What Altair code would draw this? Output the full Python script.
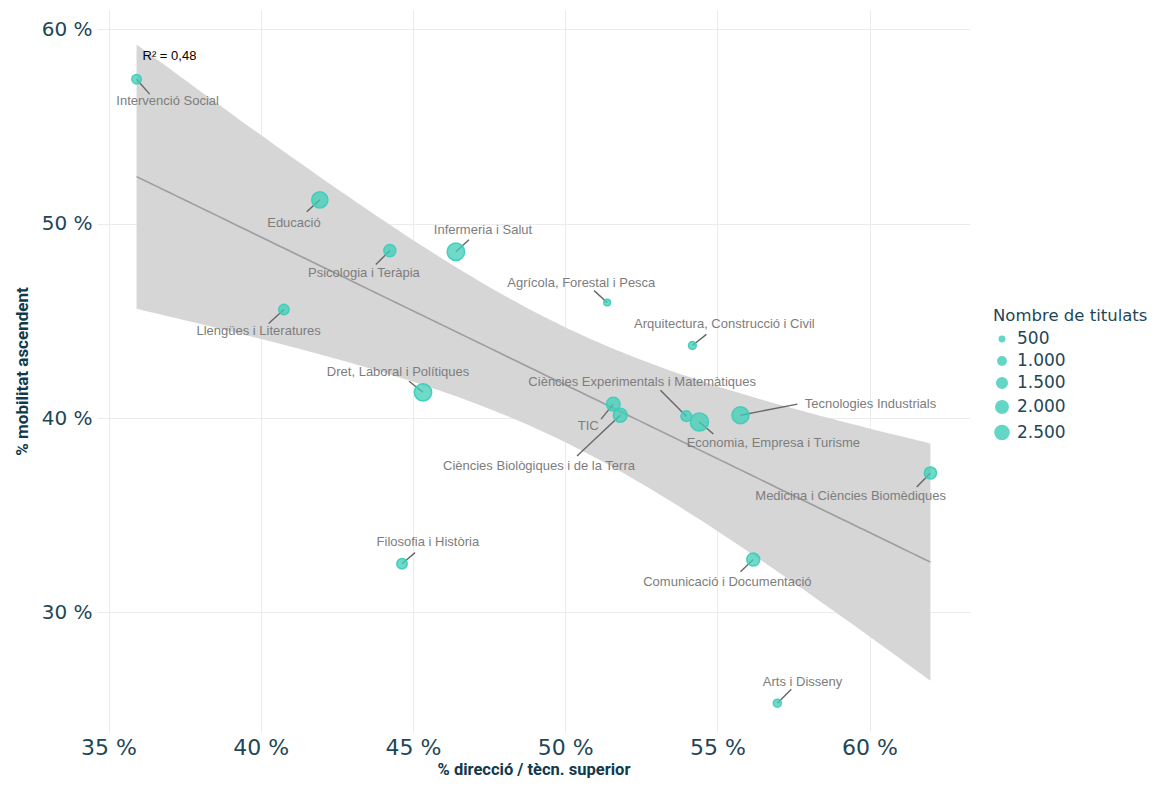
import altair as alt
import numpy as np
import pandas as pd

# ---- data ----
names = [
    "Intervenció Social", "Educació", "Psicologia i Teràpia", "Infermeria i Salut",
    "Llengües i Literatures", "Agrícola, Forestal i Pesca", "Arquitectura, Construcció i Civil",
    "Dret, Laboral i Polítiques", "Ciències Experimentals i Matemàtiques", "TIC",
    "Ciències Biològiques i de la Terra", "Economia, Empresa i Turisme", "Tecnologies Industrials",
    "Medicina i Ciències Biomèdiques", "Filosofia i Història", "Comunicació i Documentació",
    "Arts i Disseny",
]
pct_direccio = [35.92, 41.94, 44.24, 46.41, 40.76, 51.38, 54.18, 45.33, 53.98, 51.58,
                51.81, 54.41, 55.76, 62.00, 44.64, 56.18, 56.97]
pct_mobilitat = [57.44, 51.23, 48.62, 48.56, 45.59, 45.95, 43.74, 41.33, 40.10, 40.72,
                 40.15, 39.80, 40.15, 37.18, 32.51, 32.72, 25.33]
titulats = [930, 2700, 1500, 3080, 1110, 455, 625, 3080, 1170, 1900,
            1975, 3400, 2990, 1510, 1110, 1740, 670]

# label anchor (text centre) and repel-segment end, in data units
label_x = [36.94, 41.09, 43.39, 47.30, 39.93, 50.53, 55.23, 44.51, 52.53, 50.76,
           49.14, 56.84, 60.03, 59.38, 45.49, 55.33, 57.80]
label_y = [56.31, 50.05, 47.49, 49.69, 44.46, 46.97, 44.82, 42.36, 41.85, 39.59,
           37.54, 38.72, 40.72, 36.00, 33.64, 31.59, 26.41]
seg_x = [36.35, 41.51, 43.78, 46.84, 40.26, 50.95, 54.64, 44.87, 53.13, 51.18,
         50.39, 54.87, 57.63, 61.55, 45.07, 55.76, 57.43]
seg_y = [56.67, 50.62, 47.90, 49.18, 44.87, 46.56, 44.31, 41.90, 41.44, 39.95,
         38.05, 39.18, 40.72, 36.46, 33.08, 32.10, 26.05]

r2_text = ["R² = 0,48"]
r2_x = [37.0]
r2_y = [58.62]

x_ticks = [35, 40, 45, 50, 55, 60]
y_ticks = [30, 40, 50, 60]
legend_values = [500, 1000, 1500, 2000, 2500]

# ---- linear fit with 95% confidence band (like geom_smooth(method="lm")) ----
xa = np.array(pct_direccio)
ya = np.array(pct_mobilitat)
n = len(xa)
slope, intercept = np.polyfit(xa, ya, 1)
resid = ya - (intercept + slope * xa)
s = np.sqrt(np.sum(resid ** 2) / (n - 2))
sxx = np.sum((xa - xa.mean()) ** 2)
t_q = 2.131449545  # t(0.975, 15)
xs = np.linspace(xa.min(), xa.max(), 80)
fit = intercept + slope * xs
se = s * np.sqrt(1.0 / n + (xs - xa.mean()) ** 2 / sxx)
band = pd.DataFrame({"x": xs, "fit": fit, "lo": fit - t_q * se, "hi": fit + t_q * se})

pts = pd.DataFrame({
    "name": names, "x": pct_direccio, "y": pct_mobilitat, "n": titulats,
    "lx": label_x, "ly": label_y, "sx": seg_x, "sy": seg_y,
})
r2 = pd.DataFrame({"t": r2_text, "x": r2_x, "y": r2_y})

TEAL = "#3ECDB8"
AX = "#1e4756"
TITLE = "#0f3a4d"

xscale = alt.Scale(domain=[34.62, 63.3], nice=False, zero=False)
yscale = alt.Scale(domain=[23.85, 61.0], nice=False, zero=False)

xaxis = alt.Axis(
    values=x_ticks, labelExpr="datum.value + ' %'", title="% direcció / tècn. superior",
    labelFont="DejaVu Sans", labelFontSize=22, labelColor=AX, labelPadding=5,
    titleFont="Roboto", titleFontSize=16.5, titleFontWeight="bold", titleColor=TITLE,
    titlePadding=3, grid=True, gridColor="#ebebeb", domain=False, ticks=False,
)
yaxis = alt.Axis(
    values=y_ticks, labelExpr="datum.value + ' %'", title="% mobilitat ascendent",
    labelFont="DejaVu Sans", labelFontSize=20, labelColor=AX, labelPadding=5,
    titleFont="Roboto", titleFontSize=17, titleFontWeight="bold", titleColor=TITLE,
    titlePadding=10, grid=True, gridColor="#ebebeb", domain=False, ticks=False,
)

band_layer = alt.Chart(band).mark_area(color="#d6d6d6", opacity=1).encode(
    x=alt.X("x:Q", scale=xscale, axis=xaxis),
    y=alt.Y("lo:Q", scale=yscale, axis=yaxis),
    y2="hi:Q",
)
line_layer = alt.Chart(band).mark_line(color="#9d9d9d", strokeWidth=1.6).encode(
    x=alt.X("x:Q", scale=xscale), y=alt.Y("fit:Q", scale=yscale)
)
seg_layer = alt.Chart(pts).mark_rule(color="#666666", strokeWidth=1.4).encode(
    x=alt.X("x:Q", scale=xscale), y=alt.Y("y:Q", scale=yscale), x2="sx:Q", y2="sy:Q"
)
point_layer = alt.Chart(pts).mark_circle(
    fill=TEAL, fillOpacity=0.75, stroke=TEAL, strokeWidth=1.5, strokeOpacity=0.95, opacity=1
).encode(
    x=alt.X("x:Q", scale=xscale),
    y=alt.Y("y:Q", scale=yscale),
    size=alt.Size(
        "n:Q",
        scale=alt.Scale(domain=[0, 3500], range=[0, 340], zero=True),
        legend=alt.Legend(
            title="Nombre de titulats", values=legend_values,
            labelExpr="replace(format(datum.value, ','), ',', '.')",
            orient="none", legendX=896, legendY=298,
            titleFont="DejaVu Sans", titleFontSize=16.5, titleFontWeight="normal",
            titleColor=AX, titlePadding=6,
            labelFont="DejaVu Sans", labelFontSize=17, labelColor=AX, labelOffset=6,
            symbolType="circle", symbolFillColor=TEAL, symbolStrokeColor=TEAL,
            symbolOpacity=0.8, symbolStrokeWidth=1.5, rowPadding=4,
        ),
    ),
)
text_layer = alt.Chart(pts).mark_text(
    font="Liberation Sans", fontSize=13, color="#7d7d7d", align="center", baseline="middle"
).encode(x=alt.X("lx:Q", scale=xscale), y=alt.Y("ly:Q", scale=yscale), text="name:N")
r2_layer = alt.Chart(r2).mark_text(
    font="Liberation Sans", fontSize=13, color="#000000", align="center", baseline="middle"
).encode(x=alt.X("x:Q", scale=xscale), y=alt.Y("y:Q", scale=yscale), text="t:N")

chart = alt.layer(
    band_layer, line_layer, seg_layer, point_layer, text_layer, r2_layer
).properties(
    width=873, height=722,
    autosize=alt.AutoSizeParams(type="none"),
    padding={"left": 89, "top": 2, "right": 187, "bottom": 49},
).configure(background="white").configure_view(strokeWidth=0, stroke="transparent")

chart.save("out.html", embed_options={"renderer": "svg", "actions": False})
